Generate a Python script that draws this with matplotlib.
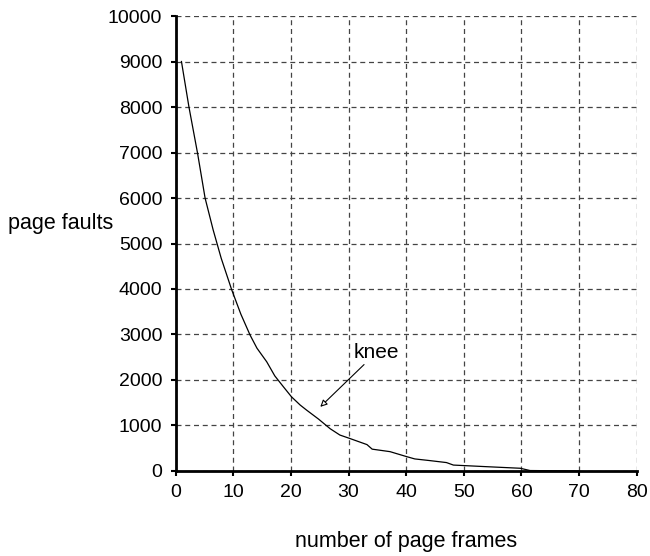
import matplotlib
matplotlib.use("Agg")
import matplotlib.pyplot as plt

plt.rcParams['font.family'] = ['Liberation Sans', 'DejaVu Sans']

# page faults vs number of page frames
frames = [1, 2.3, 3.8, 5.1, 6.5, 7.9, 9.7, 11.3, 12.9, 14.1, 15.8, 17.2, 18.7,
          20.1, 21.6, 22.7, 24.8, 26.8, 28.5, 30.1, 33.2, 34.1, 37.2, 40.1,
          41.5, 44, 47, 48.2, 53.9, 59.8, 61.5, 70]
faults = [9000, 8000, 6980, 6000, 5300, 4675, 3990, 3450, 2990, 2700, 2400,
          2090, 1850, 1630, 1450, 1340, 1140, 930, 790, 720, 580, 480, 425,
          315, 265, 230, 185, 130, 95, 60, 10, 0]

x_ticks = list(range(0, 81, 10))
y_ticks = list(range(0, 10001, 1000))

fig = plt.figure(figsize=(6.5, 5.56), dpi=100)
ax = fig.add_axes([0.2703, 0.1529, 0.7091, 0.8183])

ax.plot(frames, faults, color='black', lw=0.9)

ax.set_xlim(0, 80)
ax.set_ylim(0, 10000)
ax.set_xticks(x_ticks)
ax.set_yticks(y_ticks)
ax.tick_params(labelsize=14, length=3.6, width=1.5, color='black', pad=6)
ax.grid(True, color='#444444', linestyle=(0, (4, 3)), linewidth=0.9)

for side in ['top', 'right']:
    ax.spines[side].set_visible(False)
for side in ['left', 'bottom']:
    ax.spines[side].set_linewidth(2)

# knee annotation
ax.annotate('knee', xy=(25.1, 1410), xytext=(34.9, 2400),
            ha='center', va='bottom', fontsize=15,
            arrowprops=dict(arrowstyle='-|>', color='black', lw=0.8,
                            fc='white', mutation_scale=10,
                            shrinkA=0, shrinkB=0))

fig.text(8 / 650, 1 - 224 / 556, 'page faults', fontsize=15.5,
         ha='left', va='center')
fig.text(406 / 650, 1 - 541 / 556, 'number of page frames', fontsize=15.5,
         ha='center', va='center')

fig.savefig('out.png', dpi=100)
